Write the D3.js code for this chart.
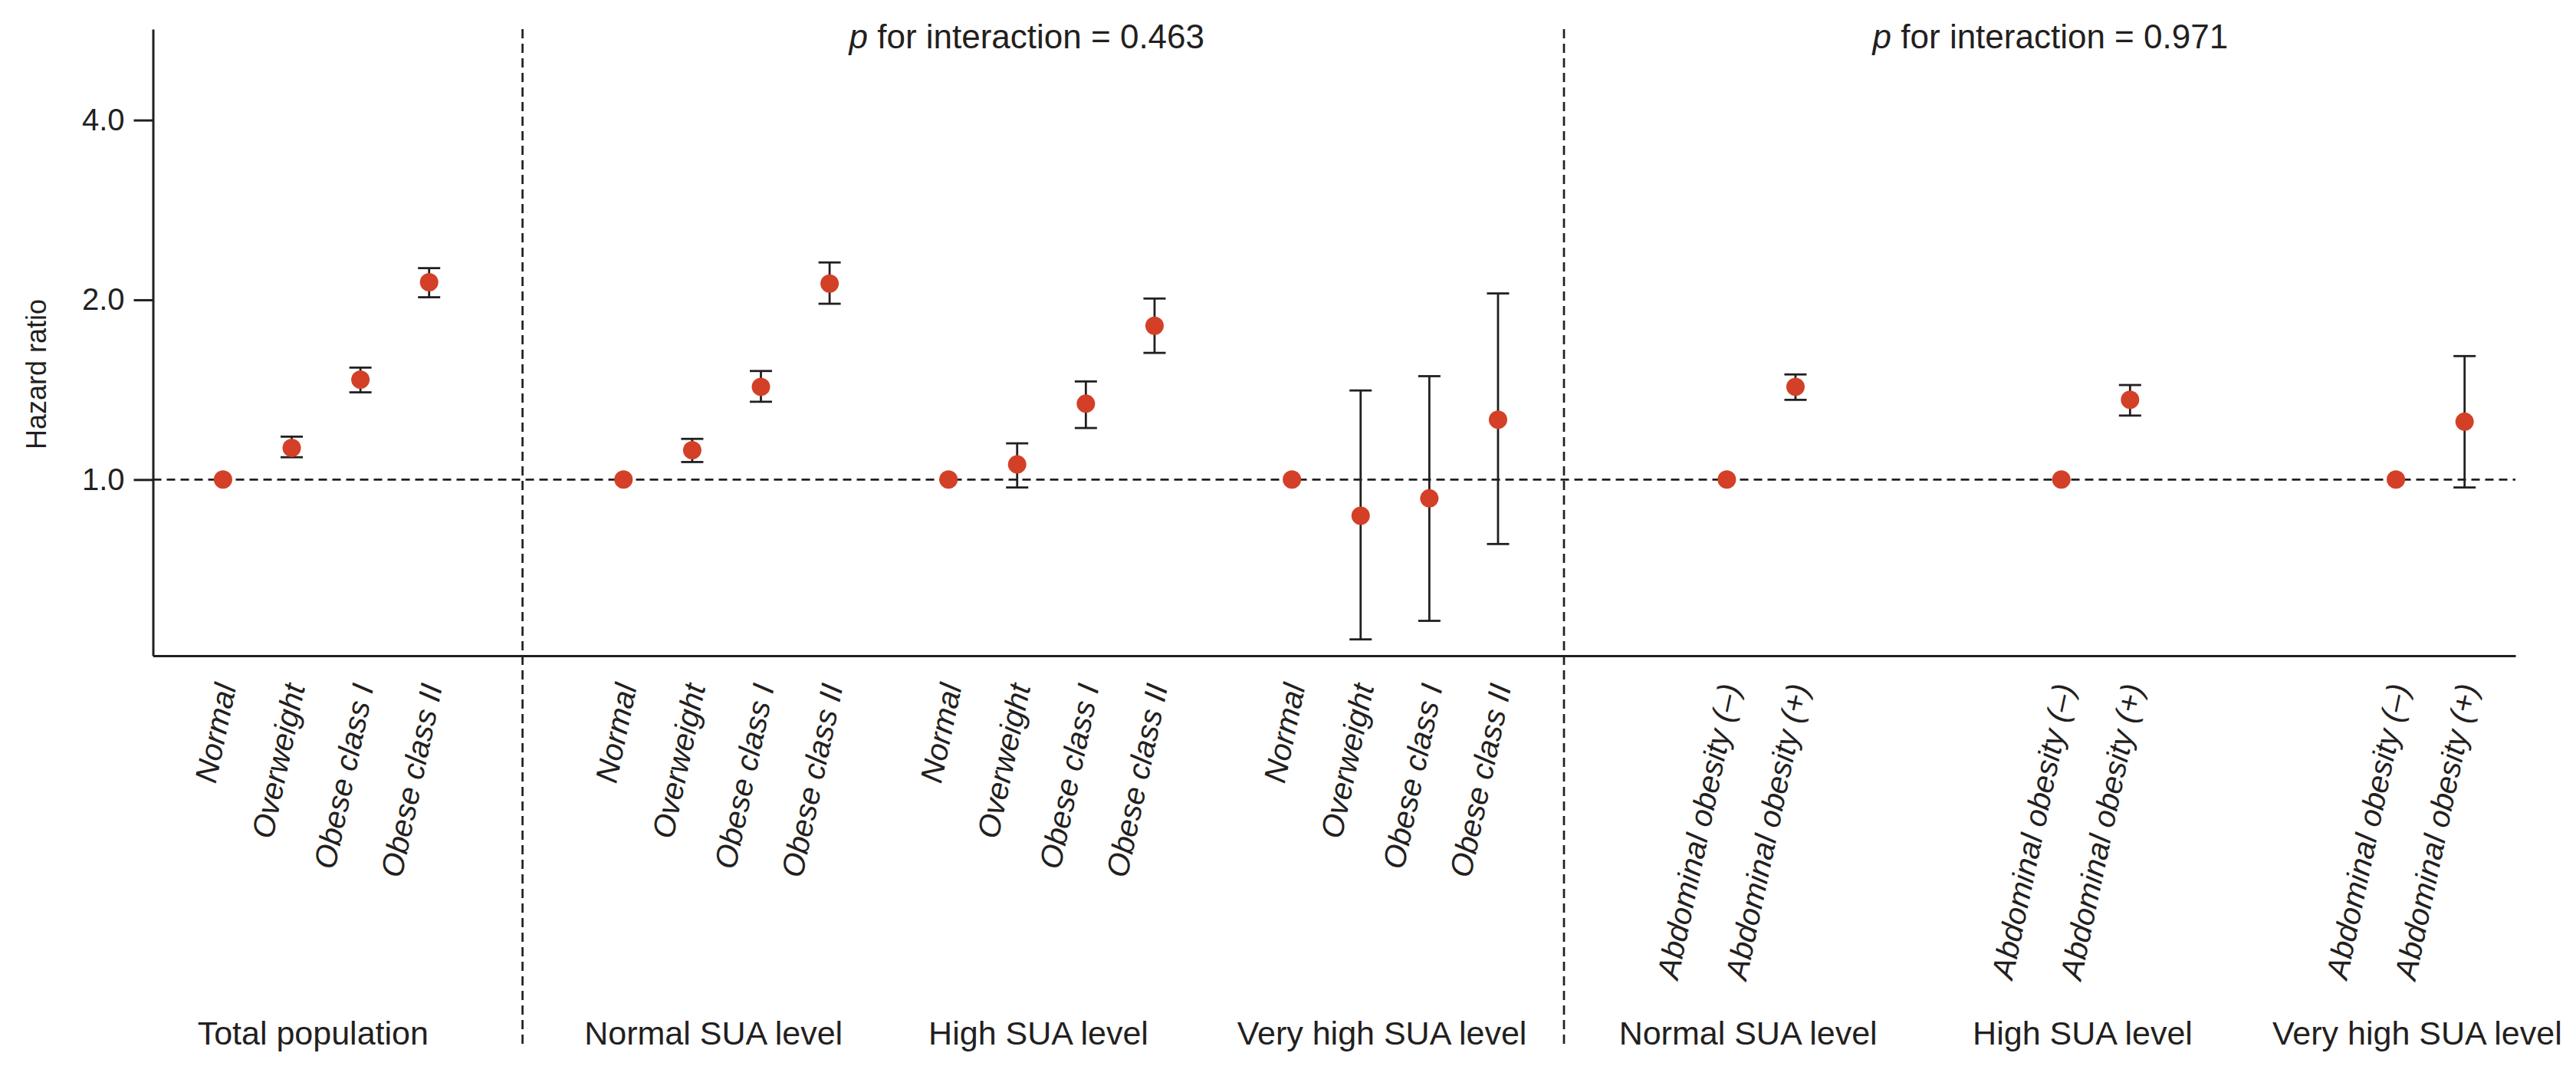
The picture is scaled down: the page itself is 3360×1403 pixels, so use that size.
<!DOCTYPE html>
<html>
<head>
<meta charset="utf-8">
<script src="https://cdn.jsdelivr.net/npm/d3@7"></script>
<style>
  body { margin: 0; background: #fff; }
  svg { display: block; }
  text { font-family: "Liberation Sans", Arial, sans-serif; fill: #231f20; }
</style>
</head>
<body>
<div id="plot"></div>
<script>
// values (hazard ratio, 95% CI)
const groupNames = ["Total population", "Normal SUA level", "High SUA level", "Very high SUA level",
                    "Normal SUA level", "High SUA level", "Very high SUA level"];
const bmiCats = ["Normal", "Overweight", "Obese class I", "Obese class II"];
const abdCats = ["Abdominal obesity (\u2013)", "Abdominal obesity (+)"];
const groupCats = [bmiCats, bmiCats, bmiCats, bmiCats, abdCats, abdCats, abdCats];

const hazardRatio = [
  [1, 1.13, 1.47, 2.14],
  [1, 1.12, 1.43, 2.13],
  [1, 1.06, 1.34, 1.81],
  [1, 0.87, 0.93, 1.26],
  [1, 1.43],
  [1, 1.36],
  [1, 1.25]
];
const ciLower = [
  [1, 1.09, 1.40, 2.02],
  [1, 1.07, 1.35, 1.97],
  [1, 0.97, 1.22, 1.63],
  [1, 0.54, 0.58, 0.78],
  [1, 1.36],
  [1, 1.28],
  [1, 0.97]
];
const ciUpper = [
  [1, 1.18, 1.54, 2.26],
  [1, 1.17, 1.52, 2.31],
  [1, 1.15, 1.46, 2.01],
  [1, 1.41, 1.49, 2.05],
  [1, 1.50],
  [1, 1.44],
  [1, 1.61]
];
const yTicks = [1, 2, 4];
const pTexts = ["0.463", "0.971"];

// layout (slot units along x)
const groupStart = [0, 5.83, 10.56, 15.56, 21.89, 26.76, 31.63];
const dividers = [4.36, 19.52];
const pTextSlot = [11.7, 26.6];

const w = 3360, h = 1403;
const ink = "#231f20", dotColor = "#d34027";

const svg = d3.select("#plot").append("svg")
    .attr("width", w)
    .attr("height", h);

svg.append("rect").attr("width", w).attr("height", h).attr("fill", "#fff");

const x = d3.scaleLinear().domain([-1.02, 33.37]).range([199.5, 3281]);
const y = d3.scaleLog().domain([0.507, 5.68]).range([855, 38]);

// flatten
let points = [];
groupCats.forEach((cats, g) => {
  cats.forEach((c, i) => {
    points.push({
      slot: groupStart[g] + i,
      label: c,
      hr: hazardRatio[g][i],
      lo: ciLower[g][i],
      hi: ciUpper[g][i],
      ref: i === 0
    });
  });
});
const labelBySlot = new Map(points.map(d => [d.slot, d.label]));

// reference line at HR = 1
svg.append("line")
    .attr("x1", x.range()[0]).attr("x2", x.range()[1])
    .attr("y1", y(1)).attr("y2", y(1))
    .attr("stroke", ink).attr("stroke-width", 2.7)
    .attr("stroke-dasharray", "11,7");

// panel dividers
svg.selectAll(".divider")
  .data(dividers)
  .enter().append("line")
    .attr("class", "divider")
    .attr("x1", d => x(d)).attr("x2", d => x(d))
    .attr("y1", 38).attr("y2", 1364)
    .attr("stroke", ink).attr("stroke-width", 2.7)
    .attr("stroke-dasharray", "12,7");

// y axis
const yAxis = d3.axisLeft(y)
    .tickValues(yTicks)
    .tickFormat(d3.format(".1f"))
    .tickSize(25)
    .tickSizeOuter(0)
    .tickPadding(12);

const gy = svg.append("g")
    .attr("transform", `translate(${x.range()[0]},0)`)
    .call(yAxis);
gy.select(".domain").attr("stroke", ink).attr("stroke-width", 3);
gy.selectAll(".tick line").attr("stroke", ink).attr("stroke-width", 3);
gy.selectAll(".tick text")
    .attr("font-size", 40)
    .attr("font-family", "Liberation Sans, Arial, sans-serif")
    .attr("fill", ink);

// x axis with rotated category labels
const xAxis = d3.axisBottom(x)
    .tickValues(points.map(d => d.slot))
    .tickFormat(d => labelBySlot.get(d))
    .tickSize(0)
    .tickSizeOuter(0);

const gx = svg.append("g")
    .attr("transform", `translate(0,${y.range()[0]})`)
    .call(xAxis);
gx.select(".domain").attr("stroke", ink).attr("stroke-width", 3);
gx.selectAll(".tick text")
    .attr("font-size", 40.5)
    .attr("font-style", "italic")
    .attr("font-family", "Liberation Sans, Arial, sans-serif")
    .attr("fill", ink)
    .attr("text-anchor", "end")
    .attr("x", 0).attr("y", 0).attr("dy", null)
    .attr("transform", "translate(17,40) rotate(-78)");

// error bars
const bars = svg.append("g").selectAll("g")
  .data(points.filter(d => !d.ref))
  .enter().append("g")
    .attr("stroke", ink)
    .attr("stroke-width", 2.8);

bars.append("line")
    .attr("x1", d => x(d.slot)).attr("x2", d => x(d.slot))
    .attr("y1", d => y(d.lo)).attr("y2", d => y(d.hi));
bars.append("line")
    .attr("x1", d => x(d.slot) - 14.5).attr("x2", d => x(d.slot) + 14.5)
    .attr("y1", d => y(d.lo)).attr("y2", d => y(d.lo));
bars.append("line")
    .attr("x1", d => x(d.slot) - 14.5).attr("x2", d => x(d.slot) + 14.5)
    .attr("y1", d => y(d.hi)).attr("y2", d => y(d.hi));

// points
svg.append("g").selectAll("circle")
  .data(points)
  .enter().append("circle")
    .attr("cx", d => x(d.slot))
    .attr("cy", d => y(d.hr))
    .attr("r", 12)
    .attr("fill", dotColor);

// group labels
svg.append("g").selectAll("text")
  .data(groupNames)
  .enter().append("text")
    .attr("x", (d, g) => x(groupStart[g] + (groupCats[g].length - 1) / 2) - 17)
    .attr("y", 1362)
    .attr("text-anchor", "middle")
    .attr("font-size", 43)
    .text(d => d);

// p for interaction
const pt = svg.append("g").selectAll("text")
  .data(pTexts)
  .enter().append("text")
    .attr("x", (d, i) => x(pTextSlot[i]))
    .attr("y", 63)
    .attr("text-anchor", "middle")
    .attr("font-size", 44);
pt.append("tspan").attr("font-style", "italic").text("p");
pt.append("tspan").text(d => " for interaction = " + d);

// y title
svg.append("text")
    .attr("transform", "translate(60,488) rotate(-90)")
    .attr("text-anchor", "middle")
    .attr("font-size", 36)
    .text("Hazard ratio");
</script>
</body>
</html>
